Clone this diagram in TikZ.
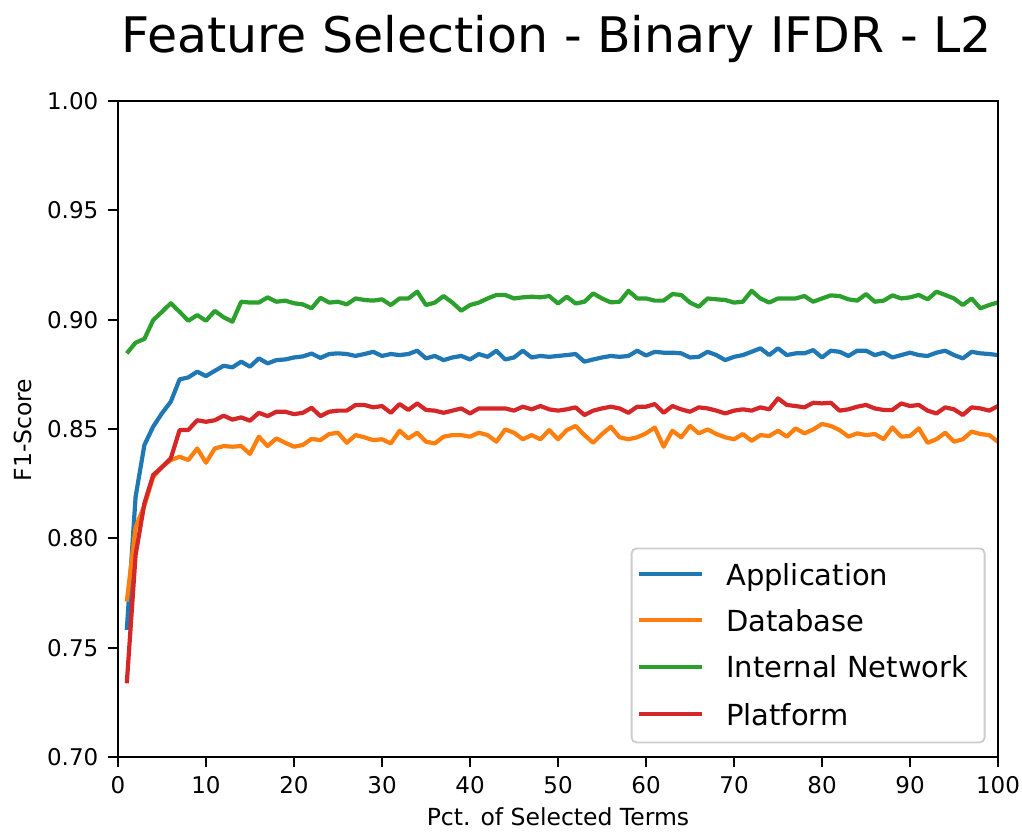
\documentclass[tikz,border=0pt]{standalone}
\usepackage{fontspec}
\setmainfont{DejaVu Sans}
\definecolor{tabblue}{HTML}{1F77B4}
\definecolor{taborange}{HTML}{FF7F0E}
\definecolor{tabgreen}{HTML}{2CA02C}
\definecolor{tabred}{HTML}{D62728}
\definecolor{legedge}{gray}{0.8}
% one data series: first value, then the remaining values at x = 2, 3, ...
\newcommand\fscurve[3]{\draw[series,#1] (1,#2) \foreach \v [count=\i from 2] in {#3} {-- (\i,\v)};}
\tikzset{
  series/.style={line width=4.2pt, line join=round},
  spine/.style={line width=2.2pt, line cap=rect},
  tickmark/.style={line width=2.2pt},
  ticklabel/.style={inner sep=0pt, font=\fontsize{23}{27}\selectfont},
  axislabel/.style={inner sep=0pt, font=\fontsize{23.5}{27}\selectfont},
  legtext/.style={inner sep=0pt, anchor=base west, font=\fontsize{29}{34}\selectfont},
  legline/.style={line width=4.2pt},
}
\begin{document}
\begin{tikzpicture}[x=1pt,y=1pt]
\useasboundingbox (0,0) rectangle (1022,831);
\fill[white] (0,0) rectangle (1022,831);

% title
\node[inner sep=0pt, anchor=base, font=\fontsize{49}{56}\selectfont] (title) at (557,778.3) {Feature Selection - Binary IFDR - L2};

\begin{scope}[x=8.8pt, y=2186.67pt, shift={(118pt,-1456.67pt)}]
  % curves
  \fscurve{tabblue}{0.7581}{0.8190,0.8427,0.8511,0.8572,0.8625,0.8727,0.8736,0.8762,0.8742,0.8766,0.8789,0.8782,0.8808,0.8785,0.8823,0.8800,0.8815,0.8818,0.8827,0.8832,0.8845,0.8825,0.8843,0.8846,0.8843,0.8834,0.8843,0.8853,0.8834,0.8843,0.8838,0.8843,0.8858,0.8823,0.8834,0.8815,0.8827,0.8834,0.8818,0.8843,0.8830,0.8858,0.8818,0.8827,0.8858,0.8827,0.8834,0.8830,0.8834,0.8838,0.8843,0.8808,0.8818,0.8827,0.8834,0.8830,0.8834,0.8858,0.8836,0.8853,0.8849,0.8849,0.8846,0.8827,0.8830,0.8853,0.8838,0.8815,0.8830,0.8838,0.8853,0.8869,0.8838,0.8869,0.8838,0.8846,0.8846,0.8861,0.8827,0.8858,0.8853,0.8834,0.8858,0.8858,0.8838,0.8849,0.8827,0.8838,0.8849,0.8838,0.8834,0.8849,0.8858,0.8838,0.8823,0.8853,0.8846,0.8843,0.8838}
  \fscurve{taborange}{0.7711}{0.8050,0.8150,0.8280,0.8328,0.8358,0.8373,0.8358,0.8411,0.8346,0.8411,0.8422,0.8419,0.8422,0.8386,0.8465,0.8422,0.8457,0.8437,0.8419,0.8427,0.8455,0.8449,0.8477,0.8483,0.8437,0.8472,0.8462,0.8449,0.8453,0.8434,0.8492,0.8457,0.8483,0.8442,0.8434,0.8465,0.8472,0.8472,0.8465,0.8483,0.8472,0.8442,0.8498,0.8483,0.8453,0.8472,0.8453,0.8495,0.8453,0.8495,0.8514,0.8472,0.8437,0.8477,0.8510,0.8462,0.8453,0.8462,0.8480,0.8507,0.8419,0.8492,0.8462,0.8514,0.8480,0.8498,0.8477,0.8462,0.8453,0.8477,0.8446,0.8472,0.8468,0.8492,0.8465,0.8503,0.8480,0.8498,0.8523,0.8514,0.8495,0.8465,0.8480,0.8472,0.8477,0.8453,0.8507,0.8465,0.8468,0.8503,0.8437,0.8453,0.8483,0.8442,0.8453,0.8488,0.8477,0.8472,0.8442}
  \fscurve{tabgreen}{0.8846}{0.8895,0.8912,0.8998,0.9036,0.9075,0.9036,0.8995,0.9021,0.8995,0.9040,0.9011,0.8991,0.9082,0.9078,0.9078,0.9102,0.9082,0.9087,0.9075,0.9070,0.9052,0.9100,0.9078,0.9082,0.9070,0.9097,0.9090,0.9087,0.9093,0.9067,0.9097,0.9097,0.9128,0.9067,0.9078,0.9108,0.9078,0.9041,0.9067,0.9078,0.9097,0.9113,0.9113,0.9097,0.9102,0.9105,0.9102,0.9108,0.9074,0.9105,0.9074,0.9082,0.9120,0.9097,0.9079,0.9082,0.9132,0.9097,0.9097,0.9087,0.9087,0.9117,0.9113,0.9078,0.9059,0.9097,0.9093,0.9090,0.9078,0.9082,0.9132,0.9097,0.9078,0.9097,0.9097,0.9097,0.9108,0.9082,0.9097,0.9111,0.9108,0.9093,0.9087,0.9117,0.9082,0.9087,0.9111,0.9097,0.9102,0.9113,0.9093,0.9128,0.9113,0.9097,0.9067,0.9097,0.9052,0.9067,0.9079}
  \fscurve{tabred}{0.7337}{0.7924,0.8160,0.8290,0.8325,0.8366,0.8495,0.8496,0.8540,0.8533,0.8540,0.8561,0.8543,0.8553,0.8538,0.8574,0.8559,0.8579,0.8579,0.8568,0.8574,0.8597,0.8559,0.8579,0.8584,0.8584,0.8610,0.8610,0.8599,0.8605,0.8574,0.8614,0.8587,0.8617,0.8587,0.8584,0.8574,0.8584,0.8594,0.8571,0.8594,0.8594,0.8594,0.8594,0.8584,0.8602,0.8590,0.8605,0.8590,0.8584,0.8590,0.8599,0.8564,0.8584,0.8594,0.8602,0.8594,0.8574,0.8602,0.8602,0.8614,0.8574,0.8605,0.8590,0.8579,0.8599,0.8594,0.8584,0.8571,0.8584,0.8590,0.8584,0.8599,0.8590,0.8640,0.8610,0.8605,0.8599,0.8620,0.8617,0.8620,0.8584,0.8590,0.8602,0.8610,0.8594,0.8587,0.8587,0.8617,0.8605,0.8610,0.8584,0.8571,0.8599,0.8590,0.8564,0.8599,0.8594,0.8584,0.8605}

  % frame
  \draw[spine] (0,0.70) rectangle (100,1.00);

  % x ticks and labels
  \foreach \t in {0,10,...,100} {
    \draw[tickmark] (\t,0.70) -- ++(0pt,-10pt);
    \node[ticklabel, anchor=north] (xt\t) at ([yshift=-19.7pt]\t,0.70) {\t};
  }
  % y ticks and labels
  \foreach \t in {0.70,0.75,0.80,0.85,0.90,0.95,1.00} {
    \draw[tickmark] (0,\t) -- ++(-10pt,0pt);
    \node[ticklabel, anchor=east] (yt\t) at ([xshift=-19.5pt]0,\t) {\t};
  }
\end{scope}

% axis titles
\node[axislabel, anchor=base] (xlabel) at (558,6) {Pct. of Selected Terms};
\node[axislabel, anchor=base, rotate=90] (ylabel) at (31.5,401) {F1-Score};

% legend
\node[draw=legedge, line width=1.8pt, fill=white, fill opacity=0.8, draw opacity=1, rounded corners=5pt,
      minimum width=353pt, minimum height=194pt, anchor=south west, inner sep=0pt] (legend) at (630.7,87.7) {};
\coordinate (la) at (639.3,256.7);
\coordinate (lb) at (639.3,210.7);
\coordinate (lc) at (639.3,164.3);
\coordinate (ld) at (639.3,116.7);
\coordinate (la2) at (701.7,256.7);
\coordinate (lb2) at (701.7,210.7);
\coordinate (lc2) at (701.7,164.3);
\coordinate (ld2) at (701.7,116.7);
\draw[legline, tabblue] (la) -- (la2);
\draw[legline, taborange] (lb) -- (lb2);
\draw[legline, tabgreen] (lc) -- (lc2);
\draw[legline, tabred] (ld) -- (ld2);
\node[legtext] (lta) at (726,246.0) {Application};
\node[legtext] (ltb) at (726,200.0) {Database};
\node[legtext] (ltc) at (726,153.6) {Internal Network};
\node[legtext] (ltd) at (726,106.0) {Platform};
\end{tikzpicture}
\end{document}
